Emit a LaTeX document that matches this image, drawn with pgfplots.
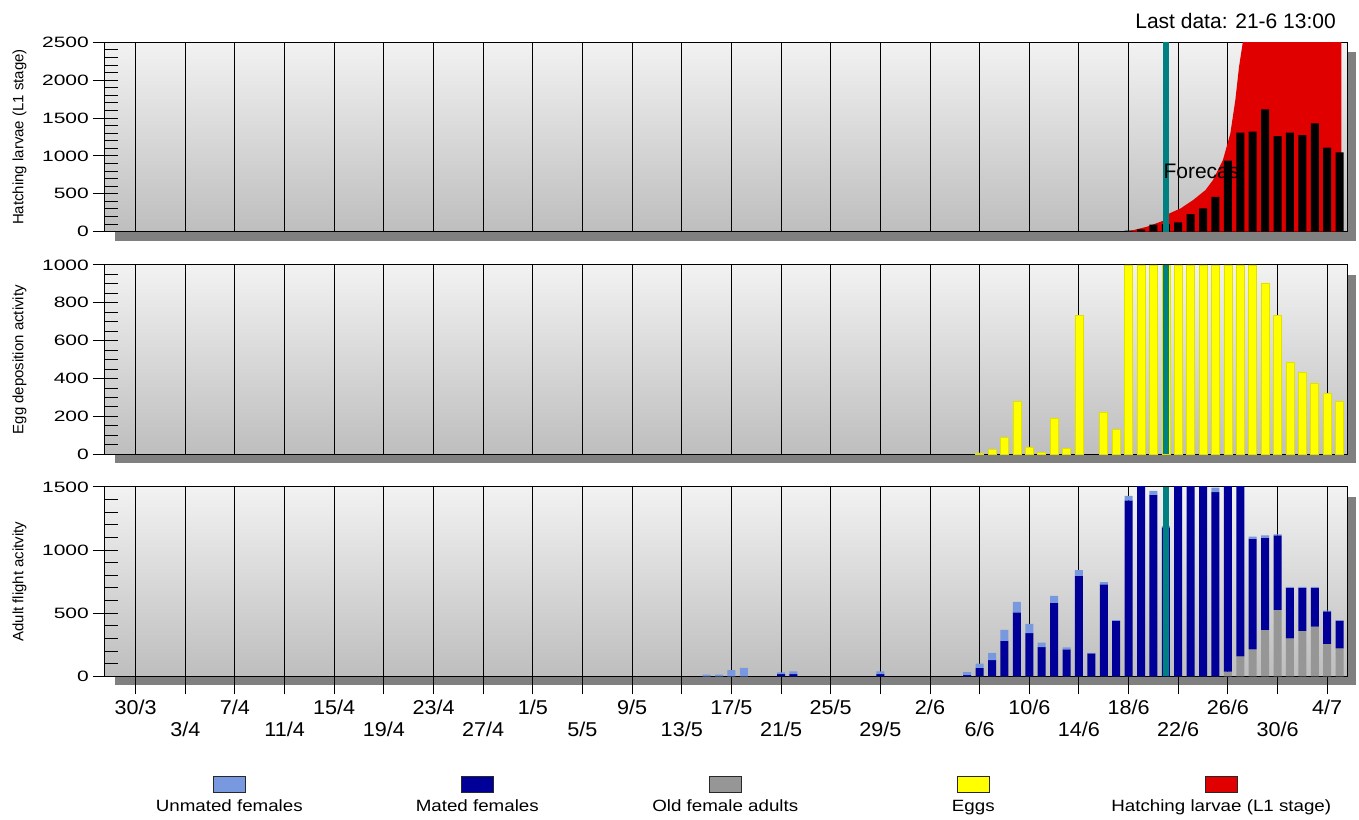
\documentclass[border=0pt]{standalone}
\usepackage{fontspec}
\setmainfont{Liberation Sans}
\newfontfamily\ytfont[FakeStretch=1.4]{Liberation Sans}
\newfontfamily\xtfont[FakeStretch=1.08]{Liberation Sans}
\newfontfamily\legfont[FakeStretch=1.15]{Liberation Sans}
\usepackage{pgfplots}
\pgfplotsset{compat=1.18}
\usepackage{pgfplotstable}

\definecolor{bgtop}{RGB}{242,242,242}
\definecolor{bgbot}{RGB}{190,190,190}
\definecolor{shadowc}{RGB}{128,128,128}
\definecolor{unmatedc}{RGB}{120,152,224}
\definecolor{matedc}{RGB}{0,0,153}
\definecolor{oldc}{RGB}{150,150,150}
\definecolor{eggc}{RGB}{255,255,0}
\definecolor{eggedge}{RGB}{225,225,0}
\definecolor{larvac}{RGB}{224,0,0}
\definecolor{forecastc}{RGB}{0,128,128}
\definecolor{legedge}{RGB}{40,40,40}

% second row of date labels
\newcommand\lo[1]{\raisebox{-22pt}{#1}}
% legend entry: swatch above its text
\newcommand\legentry[2]{{\setlength\fboxsep{0pt}\setlength\fboxrule{1pt}%
  \vbox{\hbox to 248pt{\hss\fcolorbox{legedge}{#1}{\rule{0pt}{15pt}\rule{31pt}{0pt}}\hss}%
  \kern3.5pt\hbox to 248pt{\hss#2\hss}}}}

% day 0 = 30/3
\pgfplotstableread{
day old mated unmated
46 0 0 13
47 0 0 13
48 0 0 48
49 0 0 66
52 0 18 14
53 0 18 22
60 0 18 22
67 0 10 24
68 0 66 34
69 0 129 56
70 0 280 87
71 0 507 82
72 0 341 74
73 0 232 35
74 0 581 55
75 0 214 16
76 0 795 45
77 0 182 3
78 0 729 16
79 0 438 6
80 0 1394 35
81 0 1550 0
82 0 1439 29
83 0 1180 10
84 0 1550 0
85 0 1550 0
86 0 1550 0
87 0 1458 37
88 37 1500 0
89 158 1400 0
90 214 877 16
91 367 732 18
92 526 591 8
93 301 399 8
94 359 341 8
95 394 306 8
96 256 259 5
97 222 219 4
}\adults

\pgfplotsset{
  panel/.style={
    scale only axis, width=1242pt, height=189.4pt,
    anchor=south west,
    xmin=-2.47, xmax=97.6, ymin=0,
    axis background/.style={top color=bgtop, bottom color=bgbot},
    axis line style={black, line width=1pt},
    tick style={black, line width=1pt},
    tick align=inside, major tick length=13pt, minor tick length=13pt,
    tick pos=left,
    xtick=\empty, yticklabels={},
    extra x ticks={0,4,...,96},
    extra x tick labels={},
    extra x tick style={grid=major, major tick length=0pt},
    major grid style={black, line width=1pt},
    extra y tick style={tick align=center, major tick length=24pt,
      tick label style={font=\ytfont\fontsize{15pt}{15pt}\selectfont, anchor=east,
        inner sep=0pt, xshift=-4pt}},
    every axis y label/.style={at={(axis description cs:-0.0658,0.5)}, rotate=90, anchor=base,
      font=\fontsize{15pt}{15pt}\selectfont},
    clip=true,
  },
  daybar/.style={ybar, bar width=0.645, bar shift=0pt, draw=none, forget plot},
}

\begin{document}
\begin{tikzpicture}
\useasboundingbox (0pt,0pt) rectangle (1359pt,819pt);
% drop shadows of the three panels
\fill[shadowc] (115pt,578.3pt) rectangle (1356pt,766.7pt);
\fill[shadowc] (115pt,355.7pt) rectangle (1356pt,544.1pt);
\fill[shadowc] (115pt,133.7pt) rectangle (1356pt,322.1pt);

% hatching larvae
\begin{axis}[panel, at={(105pt,587.3pt)}, ymax=2500,
  ytick={0,500,...,2500}, minor y tick num=4,
  extra y ticks={0,500,1000,1500,2000,2500},
  extra y tick labels={0,500,1000,1500,2000,2500},
  ylabel={Hatching larvae (L1 stage)}]
\addplot[fill=larvac, draw=none, forget plot] coordinates {
  (79.8,0) (80.5,25) (81.5,66) (82.8,145) (83.3,242) (84.2,308) (85.2,418)
  (86.2,550) (86.8,682) (87.6,946) (88.2,1298) (88.6,1738) (88.9,2178)
  (89.2,2500) (89.6,3000) (97.15,3000) (97.15,0)} \closedcycle;
\addplot[daybar, fill=black] coordinates {
  (80,13) (81,31) (82,92) (83,100) (84,123) (85,233) (86,308) (87,458) (88,937)
  (89,1307) (90,1320) (91,1615) (92,1262) (93,1307) (94,1276) (95,1430) (96,1109) (97,1047)};
\addplot[ybar, bar width=0.53, bar shift=0pt, draw=none, fill=forecastc, forget plot]
  coordinates {(83.025,2500)};
\end{axis}

% eggs
\begin{axis}[panel, at={(105pt,364.7pt)}, ymax=1000,
  ytick={0,200,...,1000}, minor y tick num=3,
  extra y ticks={0,200,400,600,800,1000},
  extra y tick labels={0,200,400,600,800,1000},
  ylabel={Egg deposition activity}]
\addplot[daybar, fill=eggc, draw=eggedge, line width=0.6pt] coordinates {
  (68,7) (69,26) (70,88) (71,278) (72,39) (73,12) (74,192) (75,33) (76,734)
  (78,224) (79,132) (80,1000) (81,1000) (82,1000) (83,1000) (84,1000) (85,1000)
  (86,1000) (87,1000) (88,1000) (89,1000) (90,1000) (91,905) (92,734) (93,486)
  (94,431) (95,377) (96,322) (97,278)};
\addplot[ybar, bar width=0.53, bar shift=0pt, draw=none, fill=forecastc, forget plot]
  coordinates {(83.025,1000)};
\end{axis}

% adults
\begin{axis}[panel, at={(105pt,142.7pt)}, ymax=1500,
  ytick={0,500,...,1500}, minor y tick num=4,
  extra y ticks={0,500,1000,1500},
  extra y tick labels={0,500,1000,1500},
  extra x tick labels={30/3,\lo{3/4},7/4,\lo{11/4},15/4,\lo{19/4},23/4,\lo{27/4},
    1/5,\lo{5/5},9/5,\lo{13/5},17/5,\lo{21/5},25/5,\lo{29/5},2/6,\lo{6/6},
    10/6,\lo{14/6},18/6,\lo{22/6},26/6,\lo{30/6},4/7},
  extra x tick style={grid=major, tick align=outside, major tick length=18pt,
    tick label style={font=\xtfont\fontsize{20pt}{20pt}\selectfont, inner sep=0pt,
      text height=14.5pt, anchor=north, yshift=-5pt}},
  ylabel={Adult flight acitvity},
  legend columns=5,
  legend cell align=center,
  legend image code/.code={},
  legend style={at={(axis description cs:0.4994,-0.5248)}, anchor=north,
    draw=none, fill=none, inner sep=0pt, column sep=0pt, row sep=0pt,
    nodes={inner sep=0pt},
    font=\legfont\fontsize{16.3pt}{16.3pt}\selectfont}]
\addplot[daybar, stack plots=y, fill=oldc] table[x=day, y=old] {\adults};
\addplot[daybar, stack plots=y, fill=matedc] table[x=day, y=mated] {\adults};
\addplot[daybar, stack plots=y, fill=unmatedc] table[x=day, y=unmated] {\adults};
\addplot[ybar, bar width=0.53, bar shift=0pt, draw=none, fill=forecastc, forget plot]
  coordinates {(83.025,1500)};
\addlegendimage{}\addlegendentry{\legentry{unmatedc}{Unmated females}}
\addlegendimage{}\addlegendentry{\legentry{matedc}{Mated females}}
\addlegendimage{}\addlegendentry{\legentry{oldc}{Old female adults}}
\addlegendimage{}\addlegendentry{\legentry{eggc}{Eggs}}
\addlegendimage{}\addlegendentry{\legentry{larvac}{Hatching larvae (L1 stage)}}
\end{axis}

\node[anchor=base east, inner sep=0pt, font=\fontsize{21pt}{21pt}\selectfont]
  at (1336pt,790.7pt) {Last data: 21-6 13:00};
\node[anchor=base west, inner sep=0pt, font=\fontsize{21pt}{21pt}\selectfont]
  at (1163.3pt,640.7pt) {Forecas};
\end{tikzpicture}
\end{document}
